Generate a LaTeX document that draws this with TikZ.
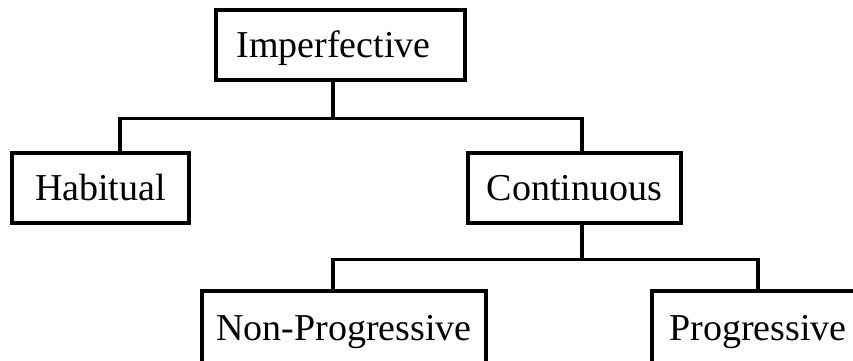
\documentclass[tikz,border=0pt]{standalone}
\usepackage{fontspec}
\setmainfont{Liberation Serif}
\usetikzlibrary{positioning, calc}

\begin{document}
\begin{tikzpicture}[x=1pt, y=1pt, node distance=143pt, line width=3.2pt,
    box/.style={draw, rectangle, minimum height=70pt, inner sep=0pt, text height=24.5pt, text depth=0pt, font=\fontsize{38}{41}\selectfont}]
    \useasboundingbox (0,0) rectangle (853,-360);

    % Top level
    \node [box, minimum width=249pt] (imp) at (340.5,-45) {Imperfective\hspace*{14pt}};

    % Second level
    \node [box, below of=imp, xshift=-240pt, minimum width=177pt] (hab) {Habitual};
    \node [box, below of=imp, xshift=234pt, minimum width=213pt] (cont) {Continuous};

    % Third level
    \node [box, below of=cont, yshift=3pt, xshift=-230.5pt, minimum width=284pt, minimum height=74pt] (nonprog) {Non-Progressive};
    \node [box, below of=cont, yshift=3pt, xshift=183.5pt, minimum width=212pt, minimum height=74pt] (prog) {Progressive};

    % Connections
    \coordinate (bar1) at ($(imp.south)+(-7.5,-37)$);
    \coordinate (bar2) at ($(cont.south)+(7.5,-35)$);
    \draw ([xshift=-7.5pt]imp.south) -- (bar1);
    \draw ([xshift=19.5pt]hab.north) |- (bar1) -| ([xshift=7.5pt]cont.north);
    \draw ([xshift=7.5pt]cont.south) -- (bar2);
    \draw ([xshift=-11pt]nonprog.north) |- (bar2) -| (prog.north);
\end{tikzpicture}
\end{document}
